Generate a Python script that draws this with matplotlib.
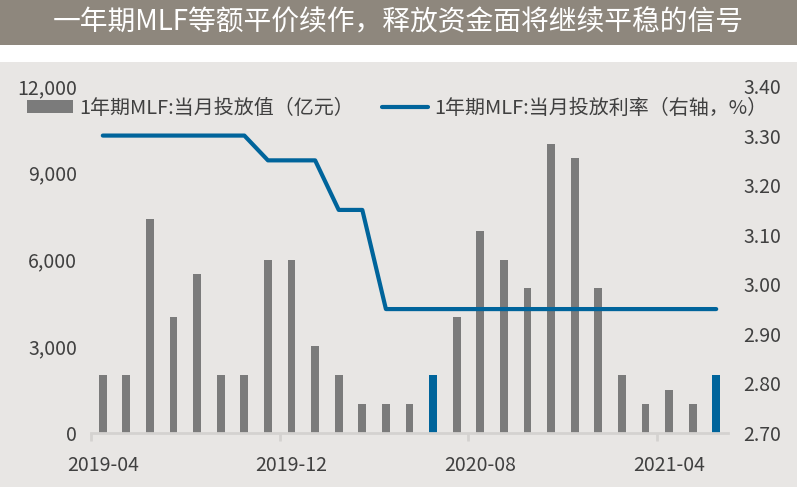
import numpy as np
import matplotlib
matplotlib.use('Agg')
import matplotlib.pyplot as plt
from matplotlib.patches import Rectangle, Patch
from matplotlib.lines import Line2D
from matplotlib.ticker import FuncFormatter

plt.rcParams['font.family'] = ['Noto Sans CJK SC', 'DejaVu Sans']

# data
months = ['2019-04', '2019-05', '2019-06', '2019-07', '2019-08', '2019-09', '2019-10',
          '2019-11', '2019-12', '2020-01', '2020-02', '2020-03', '2020-04', '2020-05',
          '2020-06', '2020-07', '2020-08', '2020-09', '2020-10', '2020-11', '2020-12',
          '2021-01', '2021-02', '2021-03', '2021-04', '2021-05', '2021-06']
amount = [2000, 2000, 7400, 4000, 5500, 2000, 2000, 6000, 6000, 3000, 2000, 1000, 1000, 1000,
          2000, 4000, 7000, 6000, 5000, 10000, 9500, 5000, 2000, 1000, 1500, 1000, 2000]
rate = [3.30, 3.30, 3.30, 3.30, 3.30, 3.30, 3.30, 3.25, 3.25, 3.25, 3.15, 3.15, 2.95, 2.95,
        2.95, 2.95, 2.95, 2.95, 2.95, 2.95, 2.95, 2.95, 2.95, 2.95, 2.95, 2.95, 2.95]
highlight = ['2020-06', '2021-06']
label_months = ['2019-04', '2019-12', '2020-08', '2021-04']

title = '一年期MLF等额平价续作，释放资金面将继续平稳的信号'
bar_name = '1年期MLF:当月投放值（亿元）'
line_name = '1年期MLF:当月投放利率（右轴，%）'

grey = '#7b7b7b'
blue = '#00649b'
txt = '#404040'

fig = plt.figure(figsize=(7.97, 4.87), dpi=100)
H = 487
# title bar and chart background
fig.patches.append(Rectangle((0, 1 - 45 / H), 1, 45 / H, transform=fig.transFigure,
                             facecolor='#8e877d', edgecolor='none', zorder=-10))
fig.patches.append(Rectangle((0, 0), 1, 1 - 62 / H, transform=fig.transFigure,
                             facecolor='#e8e6e4', edgecolor='none', zorder=-10))
fig.text(0.5, 1 - 22 / H, title, color='white', fontsize=20, ha='center', va='center')

ax = fig.add_axes([91 / 797, 1 - 433 / H, (728 - 91) / 797, (433 - 86) / H])
ax.set_facecolor('none')
x = np.arange(len(months))
colors = [blue if m in highlight else grey for m in months]
ax.bar(x, amount, width=0.33, color=colors, zorder=2)
ax.set_xlim(-0.5, len(months) - 0.5)
ax.set_ylim(0, 12000)
ax.set_yticks(np.arange(0, 12001, 3000))
ax.yaxis.set_major_formatter(FuncFormatter(lambda v, p: f'{int(v):,}'))

lab_pos = [months.index(m) for m in label_months]
ax.set_xticks(lab_pos)
ax.set_xticklabels(label_months)
ax.set_xticks([p - 0.5 for p in lab_pos], minor=True)
ax.tick_params(axis='x', which='major', length=0, pad=16, labelsize=14, labelcolor=txt)
ax.tick_params(axis='x', which='minor', length=6, width=2, color='#d4d2d0')
ax.tick_params(axis='y', length=0, pad=10, labelsize=14, labelcolor=txt)
for s in ['top', 'left', 'right']:
    ax.spines[s].set_visible(False)
ax.spines['bottom'].set_color('#d4d2d0')
ax.spines['bottom'].set_linewidth(2)

ax2 = ax.twinx()
ax2.plot(x, rate, color=blue, lw=3, solid_capstyle='round', zorder=3)
ax2.set_ylim(2.70, 3.40)
ax2.set_yticks(np.arange(2.70, 3.401, 0.10))
ax2.yaxis.set_major_formatter(FuncFormatter(lambda v, p: f'{v:.2f}'))
ax2.tick_params(axis='y', length=0, pad=11, labelsize=14, labelcolor=txt)
for s in ['top', 'left', 'right', 'bottom']:
    ax2.spines[s].set_visible(False)

handles = [Patch(facecolor=grey, edgecolor='none'),
           Line2D([0], [0], color=blue, lw=3, solid_capstyle='round')]
leg = fig.legend(handles, [bar_name, line_name], loc='center left',
                 bbox_to_anchor=(9 / 797, 1 - 108 / H), ncol=2, frameon=False,
                 fontsize=14.4, handlelength=2.3, handleheight=0.6, handletextpad=0.3,
                 columnspacing=1.4, labelcolor=txt)

fig.savefig('out.png', dpi=100)
